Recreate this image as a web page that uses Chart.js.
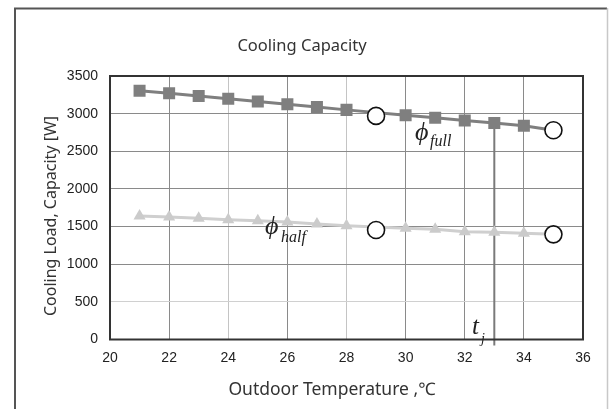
<!DOCTYPE html>
<html>
<head>
<meta charset="utf-8">
<script src="https://cdn.jsdelivr.net/npm/chart.js@4.4.1/dist/chart.umd.min.js"></script>
<style>
  html, body { margin: 0; padding: 0; background: #fff; }
  #wrap { width: 609px; height: 409px; position: relative; }
</style>
</head>
<body>
<div id="wrap"><canvas id="c" width="609" height="409"></canvas></div>
<script>
// ---- data ----
const temps      = [21, 22, 23, 24, 25, 26, 27, 28, 29, 30, 31, 32, 33, 34, 35];
const fullCap    = [3305, 3270, 3234, 3198, 3160, 3125, 3088, 3050, null, 2980, 2945, 2910, 2875, 2840, 2780];
const halfCap    = [1640, 1627, 1610, 1592, 1578, 1560, 1534, 1511, null, 1477, 1466, 1432, 1424, 1410, 1397];
const circleTemps = [29, 35];
const circleFull  = [2970, 2780];
const circleHalf  = [1455, 1397];
const tj = 33;
const xTicks = [20, 22, 24, 26, 28, 30, 32, 34, 36];
const yTicks = [0, 500, 1000, 1500, 2000, 2500, 3000, 3500];

const title  = 'Cooling Capacity';
const xTitle = 'Outdoor Temperature ,\u2103';
const yTitle = 'Cooling Load, Capacity [W]';

const toXY = (xs, ys) => xs.map((x, i) => ({ x: x, y: ys[i] }));
const lastIdx = temps.length - 1;

const decor = {
  id: 'decor',
  beforeDraw(chart) {
    const ctx = chart.ctx;
    ctx.save();
    ctx.fillStyle = '#fff';
    ctx.fillRect(0, 0, chart.width, chart.height);
    // outer frame
    ctx.strokeStyle = '#555';
    ctx.lineWidth = 2;
    ctx.beginPath();
    ctx.moveTo(15, 409);
    ctx.lineTo(15, 8.5);
    ctx.lineTo(607, 8.5);
    ctx.stroke();
    ctx.strokeStyle = '#c8c8c8';
    ctx.lineWidth = 1.5;
    ctx.beginPath();
    ctx.moveTo(607.5, 8);
    ctx.lineTo(607.5, 409);
    ctx.stroke();
    ctx.restore();
  },
  beforeDatasetsDraw(chart) {
    const ctx = chart.ctx;
    const xs = chart.scales.x, ys = chart.scales.y;
    const px = xs.getPixelForValue(tj);
    const i = temps.indexOf(tj);
    const py = ys.getPixelForValue(fullCap[i]);
    ctx.save();
    ctx.strokeStyle = '#7a7a7a';
    ctx.lineWidth = 2;
    ctx.beginPath();
    ctx.moveTo(px, py - 6);
    ctx.lineTo(px, chart.chartArea.bottom + 6);
    ctx.stroke();
    ctx.restore();
  },
  afterDraw(chart) {
    const ctx = chart.ctx;
    const a = chart.chartArea;
    ctx.save();
    // plot border
    ctx.strokeStyle = '#333';
    ctx.lineWidth = 2;
    ctx.strokeRect(a.left, a.top, a.right - a.left, a.bottom - a.top);
    // titles
    ctx.fillStyle = '#333';
    ctx.textAlign = 'center';
    ctx.textBaseline = 'middle';
    ctx.font = '16.5px "Noto Sans"';
    ctx.fillText(title, 302, 46);
    ctx.font = '17.5px "Noto Sans"';
    ctx.fillText(xTitle, 332, 390);
    ctx.font = '16px "Noto Sans"';
    ctx.save();
    ctx.translate(51, 216);
    ctx.rotate(-Math.PI / 2);
    ctx.fillText(yTitle, 0, 0);
    ctx.restore();
    // annotations
    ctx.fillStyle = '#222';
    ctx.textAlign = 'left';
    ctx.textBaseline = 'alphabetic';
    ctx.font = 'italic 26px "Liberation Serif"';
    ctx.fillText('\u03D5', 415, 140);
    ctx.font = 'italic 16px "Liberation Serif"';
    ctx.fillText('full', 430, 146);
    ctx.font = 'italic 26px "Liberation Serif"';
    ctx.fillText('\u03D5', 265, 234);
    ctx.font = 'italic 16px "Liberation Serif"';
    ctx.fillText('half', 281, 242);
    ctx.font = 'italic 25px "Liberation Serif"';
    ctx.fillText('t', 472, 334);
    ctx.font = 'italic 14px "Liberation Serif"';
    ctx.fillText('j', 481, 343);
    ctx.restore();
  }
};

const gridColorX = (c) => {
  const v = c.tick && c.tick.value;
  if (v === 24 || v === 28) return '#c4c4c4';
  return '#8a8a8a';
};
const gridColorY = (c) => {
  const v = c.tick && c.tick.value;
  if (v === 500) return '#d0d0d0';
  return '#8a8a8a';
};

new Chart(document.getElementById('c'), {
  type: 'line',
  data: {
    datasets: [
      {
        label: 'circles full',
        data: toXY(circleTemps, circleFull),
        showLine: false,
        pointStyle: 'circle',
        pointRadius: 8.5,
        pointBackgroundColor: '#fff',
        pointBorderColor: '#111',
        pointBorderWidth: 1.6,
        order: 0
      },
      {
        label: 'circles half',
        data: toXY(circleTemps, circleHalf),
        showLine: false,
        pointStyle: 'circle',
        pointRadius: 8.5,
        pointBackgroundColor: '#fff',
        pointBorderColor: '#111',
        pointBorderWidth: 1.6,
        order: 0
      },
      {
        label: 'full',
        data: toXY(temps, fullCap),
        borderColor: '#7f7f7f',
        borderWidth: 3,
        pointStyle: 'rect',
        pointRadius: (c) => c.dataIndex === lastIdx ? 0 : 8.5,
        pointBackgroundColor: '#7f7f7f',
        pointBorderColor: '#7f7f7f',
        pointBorderWidth: 0,
        spanGaps: true,
        order: 1
      },
      {
        label: 'half',
        data: toXY(temps, halfCap),
        borderColor: '#cfcfcf',
        borderWidth: 3,
        pointStyle: 'triangle',
        pointRadius: (c) => c.dataIndex === lastIdx ? 0 : 7,
        pointBackgroundColor: '#cbcbcb',
        pointBorderColor: '#cbcbcb',
        pointBorderWidth: 0,
        spanGaps: true,
        order: 1
      }
    ]
  },
  options: {
    responsive: false,
    animation: false,
    events: [],
    layout: { padding: { left: 0, top: 76, right: 26, bottom: 0 } },
    plugins: { legend: { display: false }, tooltip: { enabled: false }, title: { display: false } },
    scales: {
      x: {
        type: 'linear',
        min: 20, max: 36,
        afterFit: (s) => { s.height = 69.5; },
        afterBuildTicks: (s) => { s.ticks = xTicks.map(v => ({ value: v })); },
        grid: { color: gridColorX, lineWidth: 1, drawTicks: false },
        border: { display: false },
        ticks: { padding: 10, color: '#222', font: { family: '"Liberation Sans", Arial', size: 14 }, maxRotation: 0,
                 callback: (v) => String(v) }
      },
      y: {
        type: 'linear',
        min: 0, max: 3500,
        afterFit: (s) => { s.width = 110; },
        afterBuildTicks: (s) => { s.ticks = yTicks.map(v => ({ value: v })); },
        grid: { color: gridColorY, lineWidth: 1, drawTicks: false },
        border: { display: false },
        ticks: { padding: 12, color: '#222', font: { family: '"Liberation Sans", Arial', size: 14 },
                 callback: (v) => String(v) }
      }
    }
  },
  plugins: [decor]
});
</script>
</body>
</html>
